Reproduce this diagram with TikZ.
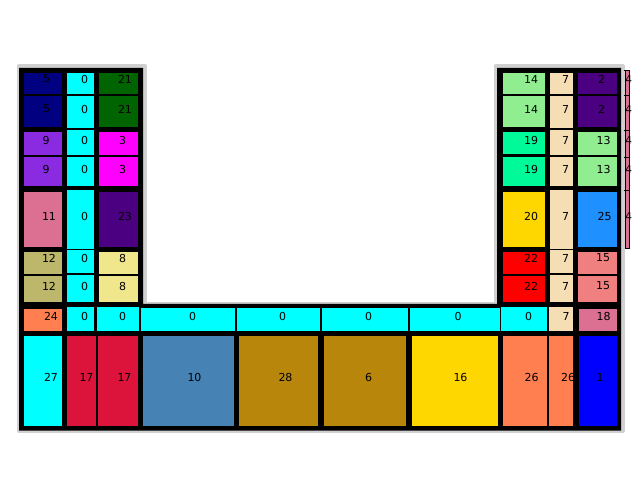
\documentclass[tikz,border=0pt]{standalone}
\usepackage{fontspec}
\setmainfont{DejaVu Sans}
\usetikzlibrary{positioning}
\definecolor{navy}{HTML}{000080}
\definecolor{aqua}{HTML}{00FFFF}
\definecolor{dkgreen}{HTML}{006400}
\definecolor{bviolet}{HTML}{8A2BE2}
\definecolor{fuchsia}{HTML}{FF00FF}
\definecolor{pvred}{HTML}{DB7093}
\definecolor{indigo}{HTML}{4B0082}
\definecolor{dkkhaki}{HTML}{BDB76B}
\definecolor{khaki}{HTML}{F0E68C}
\definecolor{coral}{HTML}{FF7F50}
\definecolor{crimson}{HTML}{DC143C}
\definecolor{stblue}{HTML}{4682B4}
\definecolor{dkgold}{HTML}{B8860B}
\definecolor{gold}{HTML}{FFD700}
\definecolor{ltgreen}{HTML}{90EE90}
\definecolor{wheat}{HTML}{F5DEB3}
\definecolor{mspgreen}{HTML}{00FA9A}
\definecolor{dgblue}{HTML}{1E90FF}
\definecolor{ltcoral}{HTML}{F08080}
\definecolor{pured}{HTML}{FF0000}
\definecolor{purblue}{HTML}{0000FF}
\definecolor{shadow}{HTML}{D0D0D0}

\begin{document}
\begin{tikzpicture}[
  x=1pt, y=-1pt,
  numlbl/.style={font=\fontsize{11}{13}\selectfont, text=black, inner sep=0pt},
]

% =============================================
% Styles for the plan
% =============================================
\tikzset{
  footprint/.style={draw=shadow, line width=4pt, line join=round},
  wallfill/.style={fill=black},
  stripbox/.style={fill=pvred, draw=black, line width=0.6pt},
}

\useasboundingbox[fill=white] (0,0) rectangle (641,500);

% =============================================
% Footprint and walls
% =============================================
\draw[footprint] (19,66) -- (144.5,66) -- (144.5,304.5) -- (495.5,304.5)
  -- (495.5,66) -- (622.5,66) -- (622.5,431) -- (19,431) -- cycle;
\fill[wallfill] (19,68) -- (143,68) -- (143,304) -- (497,304)
  -- (497,68) -- (621,68) -- (621,430.5) -- (19,430.5) -- cycle;

% =============================================
% Left wing
% =============================================
\foreach \xa/\ya/\xb/\yb/\col/\t/\tx/\ty [count=\i] in {
  23.5/73/61.5/94.5/navy/5/46.5/79,
  66.5/73/93.5/94.5/aqua/0/84.5/79,
  98.5/73/137.5/94.5/dkgreen/21/125/79,
  23.5/96/61.5/127.5/navy/5/46.5/109,
  66.5/96/93.5/128/aqua/0/84.5/109,
  98.5/96/137.5/127.5/dkgreen/21/125/109,
  23.5/132.5/61.5/155/bviolet/9/46/140,
  66.5/130.5/93.5/155.5/aqua/0/84.5/140,
  98.5/132.5/137.5/155/fuchsia/3/122.5/140,
  23.5/157.5/61.5/186.5/bviolet/9/46/169,
  66.5/157.5/93.5/186.5/aqua/0/84.5/169,
  98.5/157.5/137.5/186.5/fuchsia/3/122.5/169,
  23.5/192.5/61.5/247.5/pvred/11/49/216,
  66.5/190/93.5/249/aqua/0/84.5/216,
  98.5/192.5/137.5/247.5/indigo/23/125/216,
  23.5/252.5/61.5/274/dkkhaki/12/49/258,
  66.5/250.5/93.5/273/aqua/0/84.5/258,
  98.5/252.5/137.5/274/khaki/8/122.5/258,
  23.5/276/61.5/302.5/dkkhaki/12/49/286,
  66.5/275.5/93.5/302.5/aqua/0/84.5/286,
  98.5/276/137.5/302.5/khaki/8/122.5/286}
{
  \fill[\col] (\xa,\ya) rectangle (\xb,\yb);
  \node[numlbl] (left\i) at (\tx,\ty) {\t};
}

% =============================================
% Corridor row and bottom row
% =============================================
\foreach \xa/\ya/\xb/\yb/\col/\t/\tx/\ty [count=\i] in {
  23.5/309/61.5/331/coral/24/51/316,
  66.5/307/93.5/331/aqua/0/84.5/316,
  96.5/307/139/331/aqua/0/122.5/316,
  141/308/235/331/aqua/0/192.5/316,
  236.5/308/320/331/aqua/0/282.5/316,
  321.5/308/407.5/331/aqua/0/368.5/316,
  410/308/499.5/331/aqua/0/458/316,
  501/307/546.5/331/aqua/0/528.5/316,
  548.5/307/572.5/331/wheat/7/566/316,
  578.5/309/616.5/331/pvred/18/603.5/316,
  23.5/336.5/61.5/426/aqua/27/51/377,
  66.5/336.5/95.5/426/crimson/17/86.5/377,
  97.5/336.5/137.5/426/crimson/17/124.5/377,
  142.5/336.5/233.5/426/stblue/10/194.5/377,
  238.5/336.5/317.5/426/dkgold/28/285.5/377,
  323.5/336.5/405.5/426/dkgold/6/368.5/377,
  411.5/336.5/497.5/426/gold/16/460.5/377,
  502.5/336.5/546.5/426/coral/26/531.5/377,
  548.5/336.5/572.5/426/coral/26/568/377,
  578.5/336.5/616.5/426/purblue/1/600/377}
{
  \fill[\col] (\xa,\ya) rectangle (\xb,\yb);
  \node[numlbl] (bot\i) at (\tx,\ty) {\t};
}

% =============================================
% Right wing
% =============================================
\foreach \xa/\ya/\xb/\yb/\col/\t/\tx/\ty [count=\i] in {
  502.5/73/545/94.5/ltgreen/14/531/79,
  549.5/73/572.5/94.5/wheat/7/565.5/79,
  577.5/73/616.5/94.5/indigo/2/601.5/79,
  502.5/96/545/127/ltgreen/14/531/109,
  549.5/96/572.5/128/wheat/7/565.5/109,
  577.5/96/616.5/127/indigo/2/601.5/109,
  502.5/132.5/545/154.5/mspgreen/19/531/140,
  549.5/130.5/572.5/155/wheat/7/565.5/140,
  577.5/132.5/616.5/155/ltgreen/13/603.5/140,
  502.5/157.5/545/186.5/mspgreen/19/531/169,
  549.5/157.5/572.5/186.5/wheat/7/565.5/169,
  577.5/157.5/616.5/186.5/ltgreen/13/603.5/169,
  502.5/192.5/545/247.5/gold/20/531/216,
  549.5/190/572.5/249/wheat/7/565.5/216,
  577.5/192.5/616.5/247.5/dgblue/25/604.5/216,
  502.5/252.5/545/274/pured/22/531/258,
  549.5/250.5/572.5/273/wheat/7/565.5/258,
  577.5/252.5/616.5/274/ltcoral/15/603/258,
  502.5/276/545/302.5/pured/22/531/286,
  549.5/275.5/572.5/302.5/wheat/7/565.5/286,
  577.5/276/616.5/302.5/ltcoral/15/603/286}
{
  \fill[\col] (\xa,\ya) rectangle (\xb,\yb);
  \node[numlbl] (right\i) at (\tx,\ty) {\t};
}

% =============================================
% Narrow strip beside the right wing
% =============================================
\foreach \ya/\yb/\ty [count=\i] in {70/95/79, 95/130/109, 130/157/140, 157/190/169, 190/248/216}
{
  \filldraw[stripbox] (625.5,\ya) rectangle (629,\yb);
  \draw[line width=0.6pt] (623.5,\ya) -- (625.5,\ya);
  \node[numlbl] (strip\i) at (628.5,\ty) {4};
}

\end{tikzpicture}
\end{document}
